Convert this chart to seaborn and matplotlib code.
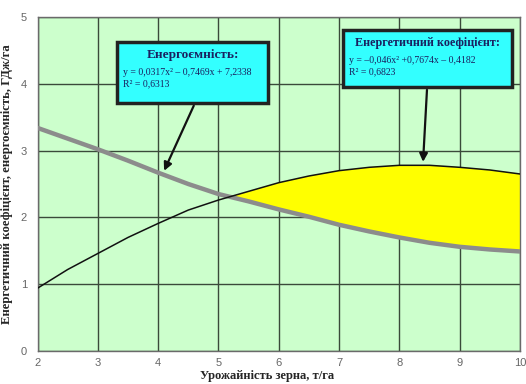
import numpy as np
import pandas as pd
import seaborn as sns
import matplotlib.pyplot as plt
from matplotlib.patches import Rectangle

# дані (крок 0,5 т/га)
urozhai = [2, 2.5, 3, 3.5, 4, 4.5, 5, 5.5, 6, 6.5, 7, 7.5, 8, 8.5, 9, 9.5, 10]
energoemnist = [3.34, 3.18, 3.02, 2.85, 2.67, 2.50, 2.35, 2.24, 2.12, 2.01,
                1.89, 1.79, 1.70, 1.62, 1.56, 1.52, 1.49]
en_koef = [0.94, 1.22, 1.46, 1.70, 1.91, 2.11, 2.26, 2.39, 2.52, 2.62,
           2.70, 2.75, 2.78, 2.78, 2.75, 2.71, 2.65]

df = pd.DataFrame({"x": urozhai, "emn": energoemnist, "koef": en_koef})

sns.set_style("white")
plt.rcParams['font.family'] = ['Liberation Serif', 'DejaVu Serif']

fig = plt.figure(figsize=(5.26, 3.84), dpi=100)
ax = fig.add_axes([0.0713, 0.0859, 0.9173, 0.8698])
ax.set_facecolor("#ccffcc")

x = np.array(urozhai, dtype=float)
y1 = np.array(energoemnist)
y2 = np.array(en_koef)
ax.fill_between(x, y1, y2, where=y2 >= y1, interpolate=True, color="#ffff00", zorder=2)

sns.lineplot(data=df, x="x", y="emn", color="#8c8c8c", linewidth=3.2, ax=ax, zorder=3)
sns.lineplot(data=df, x="x", y="koef", color="#111111", linewidth=1.1, ax=ax, zorder=4)

ax.set_xlim(2, 10)
ax.set_ylim(0, 5)
ax.set_xticks(range(2, 11))
ax.set_yticks(range(0, 6))
ax.grid(True, color="#3a4a3a", linewidth=1.0)
ax.set_axisbelow(True)
for s in ax.spines.values():
    s.set_color("#6a6a6a")
    s.set_linewidth(1.0)
ax.tick_params(axis="both", labelsize=8, labelcolor="#666666", colors="#666666",
               length=4, direction="out")
for lbl in ax.get_xticklabels() + ax.get_yticklabels():
    lbl.set_family(['Liberation Sans', 'DejaVu Sans'])
ax.tick_params(axis="x", pad=1)

ax.set_xlabel("Урожайність зерна, т/га", fontsize=9, fontweight="bold")
ax.xaxis.set_label_coords(0.476, -0.057)
ax.set_ylabel("Енергетичний коефіцієнт, енергоємність, ГДж/га", fontsize=9.2,
              fontweight="bold", labelpad=6)

# рамки з підписами
def box(x0, y0, w, h, title, lines, tsize):
    ax.add_patch(Rectangle((x0, y0), w, h, facecolor="#33ffff", edgecolor="#222222",
                           linewidth=2.5, zorder=6, clip_on=False))
    ax.text(x0 + w / 2, y0 + h - 0.2, title, ha="center", va="center", fontsize=tsize,
            fontweight="bold", color="#1a2060", zorder=7)
    ax.text(x0 + 0.1, y0 + h - 0.4, lines, ha="left", va="top", fontsize=7,
            color="#1a2060", linespacing=1.3, zorder=7)

box(3.32, 3.71, 2.5, 0.92, "Енергоємність:",
    "y = 0,0317x² – 0,7469x + 7,2338\nR² = 0,6313", 9.5)
box(7.07, 3.95, 2.8, 0.86, "Енергетичний коефіцієнт:",
    "y = –0,046x² +0,7674x – 0,4182\nR² = 0,6823", 8.7)

ax.annotate("", xy=(4.08, 2.66), xytext=(4.61, 3.71),
            arrowprops=dict(arrowstyle="-|>", color="#111111", lw=1.6, mutation_scale=12),
            zorder=8)
ax.annotate("", xy=(8.39, 2.79), xytext=(8.46, 3.95),
            arrowprops=dict(arrowstyle="-|>", color="#111111", lw=1.6, mutation_scale=12),
            zorder=8)

fig.savefig("out.png", dpi=100)
